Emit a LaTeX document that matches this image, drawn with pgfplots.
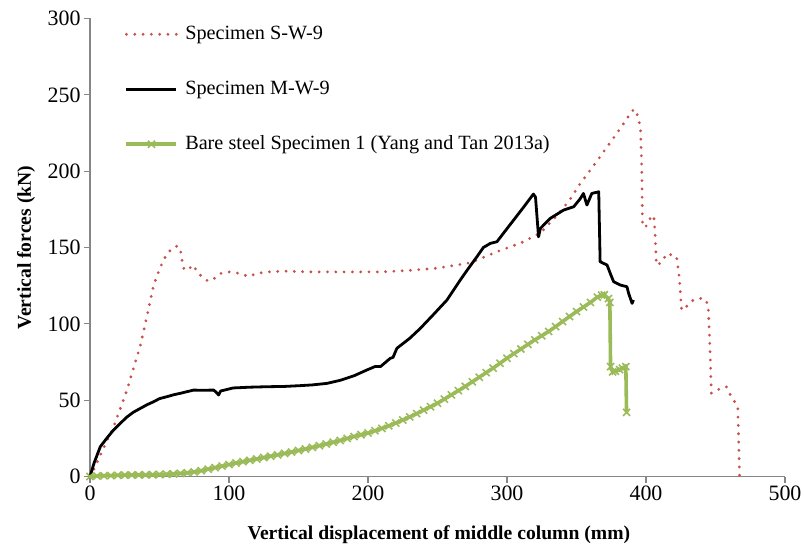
\documentclass[border=0pt]{standalone}
\usepackage{pgfplots}
\pgfplotsset{compat=1.18}
\usepackage{fontspec}
\setmainfont{Liberation Serif}
\definecolor{swred}{RGB}{200,80,77}
\definecolor{bsgreen}{RGB}{155,187,89}
\definecolor{axgray}{RGB}{134,134,134}
\begin{document}
\begin{tikzpicture}
\begin{axis}[
  name=ax,
  at={(0,0)}, anchor=south west,
  scale only axis, width=695bp, height=458bp,
  xmin=0, xmax=500, ymin=0, ymax=300,
  clip=false,
  axis lines=left,
  axis line style={-, draw=axgray, line width=1.4bp},
  xtick={0,100,...,500}, ytick={0,50,...,300},
  tick align=outside, major tick length=6bp,
  tick style={draw=axgray, line width=1.2bp},
  /pgf/number format/assume math mode=true,
  tick label style={font=\fontsize{22}{26}\selectfont, text=black},
  xlabel={Vertical displacement of middle column (mm)},
  ylabel={Vertical forces (kN)},
  xlabel style={font=\bfseries\fontsize{19.7}{23}\selectfont, at={(axis description cs:0.502,-0.1375)}, anchor=base},
  ylabel style={font=\bfseries\fontsize{19.7}{23}\selectfont, at={(axis description cs:-0.092,0.5)}, anchor=center},
  legend cell align=left,
  legend style={draw=none, fill=none, at={(axis description cs:0.0496,0.99)}, anchor=north west,
    inner sep=0pt, row sep=33bp, column sep=5bp,
    nodes={font=\fontsize{20.3}{24}\selectfont, text height=14bp, text depth=4bp, inner sep=2bp}},
  legend image code/.code={\draw[mark repeat=2, mark phase=2, #1] plot coordinates {(0bp,0bp) (25bp,0bp) (50bp,0bp)};},
]
\addplot[swred, line width=3.1bp, dash pattern=on 0bp off 8.3bp, line cap=round] coordinates {
(0,0) (3,5) (7.4,14) (12,23) (17,32.6) (22,45) (26.6,56.6) (31,70) (36,85) (41,105) (45.7,125)
(48,131) (52,140) (55.4,146) (60,150) (63,151) (65,149) (67,137) (68.6,135) (71,136) (74.5,138.5)
(77,134) (81.6,130) (85,128) (90,130) (94,133) (100,134) (108,133) (114,131) (120,133) (127,134)
(140,134.5) (160,134) (180,134) (200,134) (209,134) (230,135) (250,136.5) (273.6,140) (295,148)
(310,153) (324,159.5) (335,170) (345,181) (352,191) (365,207) (380,226) (390,239.5) (392.3,240.5)
(394,236) (396,229) (397,200) (397.5,163.6) (400,164) (403,169) (405.6,171) (406.5,160) (407.5,138.5)
(411,140) (415,146) (419,145) (422,144) (424,130) (425.6,109) (430,112) (434,115.6) (441,117)
(444.7,113) (446,85) (447,54.6) (452,57) (457.8,58.8) (460,54.6) (466,45.7) (466.5,30) (467.3,0)
};
\addlegendentry{Specimen S-W-9}
\addplot[black, line width=2.8bp, line join=round] coordinates {
(0,0) (3,9) (7.4,19.5) (12,25) (17,30.5) (22,35) (26.6,39) (31,42) (36.2,44.6) (41,47) (45.8,49)
(50,51) (55.4,52.3) (60,53.5) (65,54.5) (74.5,56.6) (80,56.5) (89,56.6) (91,55) (92.5,53.4) (94,56)
(103,58) (115,58.5) (127,58.8) (140,59) (151,59.5) (160,60) (170.5,61) (180,63) (190,66) (199,69.7)
(205,72) (209,72) (216,77.4) (218,78) (220.8,84) (230,90.5) (237.6,97) (247,106) (256.8,115.6)
(266.4,128.7) (272,136) (278.4,144) (283,150) (288,152.7) (292.8,153.8) (298,160) (304.8,168)
(312,176.5) (319,185) (320.5,183) (322.7,157) (324,162.5) (331,169) (340.7,174.5) (348,176.7)
(352.7,182) (355,185.4) (357.5,177.8) (361,185.4) (366,186.5) (367,140.7) (372,138.5) (374.3,133)
(376.7,127.6) (381.5,125.4) (386.3,124.3) (387.5,120) (390,113.4) (391,115.6)
};
\addlegendentry{Specimen M-W-9}
\addplot[bsgreen, line width=3.6bp, mark=x, mark size=5bp, mark options={solid, line width=1.6bp}] coordinates {
(0,0) (5,0.3) (10,0.5) (15,0.6) (20,0.8) (25,0.9) (30,1.0) (35,1.0) (40,1.1) (45,1.2) (50,1.3)
(55,1.5) (60,1.7) (65,2.0) (70,2.4) (75,3.0) (80,3.8) (85,4.8) (90,5.8) (95,6.8) (100,7.8)
(105,8.8) (110,9.7) (115,10.6) (120,11.5) (125,12.4) (130,13.3) (135,14.2) (140,15.1) (145,16.0)
(150,17.0) (155,18.0) (160,19.1) (165,20.2) (170,21.3) (175,22.4) (180,23.6) (185,24.9) (190,26.2)
(195,27.4) (200,28.5) (205,30) (210,31.5) (215,33.2) (220,35) (225,37) (230,39) (235,41.2)
(240,43.5) (245,45.7) (250,48) (255,50.7) (260,53.5) (265,56.2) (270,59) (275,62) (280,65)
(285,68) (290,71) (295,74.2) (300,77.5) (305,80.5) (310,83.5) (315,86.5) (320,89.5) (325,92.2)
(330,95) (335,98.2) (340,101.5) (345,104.8) (350,108) (355,111) (360,114) (365,117.5) (368,118.8)
(370,119) (373,116.5) (374,114) (374.5,72) (376,68.5) (378,69) (381,70) (383,71) (385.5,72) (386,42)
};
\addlegendentry{Bare steel Specimen 1 (Yang and Tan 2013a)}
\end{axis}
\pgfresetboundingbox
\path (-90bp,-69.5bp) rectangle (714bp,476.5bp);
\end{tikzpicture}
\end{document}
